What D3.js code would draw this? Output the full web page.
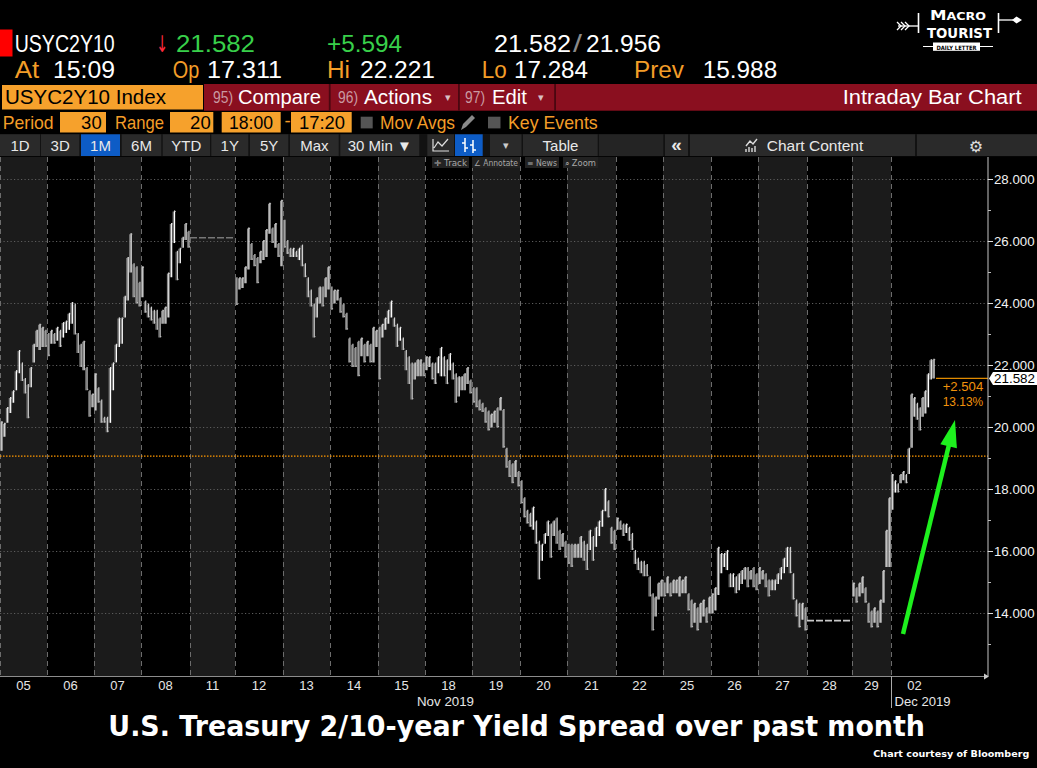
<!DOCTYPE html>
<html><head><meta charset="utf-8">
<script src="https://cdn.jsdelivr.net/npm/d3@7"></script>
<style>html,body{margin:0;padding:0;background:#000;overflow:hidden}</style>
</head><body>
<svg id="c" width="1037" height="768"></svg>
<script>
// ---------------- DATA ----------------
const dayLabels = ["05","06","07","08","11","12","13","14","15","18","19","20","21","22","25","26","27","28","29","02"];
// 30-minute bars in each session (x slots)
const sessionBars = [47,47,47,49,45,48,47,48,47,47,48,47,49,47,48,47,49,45,39,47];
const lastDayTradedBars = 44;
const closedDays = ["11","28"];
const closedLevels = [26.12, 13.77];
// sampled bar ranges [low, high] per session
const d05 = [[19.25,20.2],[19.7,20.15],[20.15,20.66],[20.47,20.98],[20.8,21.2],[21.2,21.85],[21.75,22.5],[21.5,22.1],[21.1,21.6],[20.3,21.4],[21.3,21.95],[22.1,22.7],[22.6,23.15],[22.5,23.35],[22.6,23.25],[22.6,23.15]];
const d06 = [[22.3,23.05],[22.7,23.15],[22.7,23.05],[22.8,23.25],[22.6,23.15],[22.9,23.4],[23.05,23.45],[23.15,23.7],[23.35,24.05],[23.0,24.0],[22.4,23.05],[21.95,22.7],[21.85,22.8],[21.2,21.95],[20.35,21.2],[20.65,21.1]];
const d07 = [[20.55,21.75],[20.8,21.3],[20.15,20.9],[20.15,20.35],[19.85,20.35],[20.15,21.95],[21.2,22.1],[22.1,22.7],[22.6,23.55],[22.7,23.55],[23.55,24.25],[24.1,25.5],[25.0,26.27],[24.2,25.3],[24.0,25.2],[23.9,24.7]];
const d08 = [[24.2,25.2],[23.7,24.1],[23.55,24.0],[23.45,23.9],[23.35,23.8],[23.15,23.8],[22.9,23.55],[23.35,23.8],[23.35,23.9],[23.55,25.0],[24.85,26.6],[25.95,27.0],[24.75,25.7],[25.3,25.8],[25.8,26.15],[26.05,26.6],[25.8,26.35]];
const d11 = [];
const d12 = [[23.95,24.85],[24.45,24.85],[24.5,24.85],[24.65,25.2],[25.1,26.45],[25.4,25.95],[25.2,25.6],[24.65,25.5],[25.3,25.7],[25.4,26.05],[25.5,26.4],[26.25,27.25],[25.95,26.45],[25.8,26.6],[25.5,25.95],[25.2,27.35]];
const d13 = [[25.8,26.7],[25.6,26.05],[25.5,25.8],[25.5,25.8],[25.5,25.7],[25.4,25.8],[25.2,25.9],[24.85,25.3],[24.2,24.85],[23.9,24.45],[22.9,24.0],[23.55,24.2],[24.0,24.55],[23.9,24.55],[24.2,24.85],[24.45,25.2]];
const d14 = [[23.8,24.55],[24.0,24.45],[24.1,24.45],[23.7,24.2],[23.55,24.0],[23.15,23.7],[22.1,22.9],[21.95,22.7],[21.95,22.6],[21.65,22.8],[22.3,22.9],[22.1,22.7],[22.3,22.8],[22.1,22.7],[22.1,23.25],[22.6,23.15]];
const d15 = [[21.55,23.25],[22.9,23.35],[23.15,23.55],[23.35,23.8],[23.55,24.1],[23.25,23.55],[22.6,23.35],[22.8,23.25],[22.5,22.9],[21.85,22.5],[21.4,22.3],[20.9,22.1],[21.55,22.1],[21.65,22.2],[21.65,22.2],[21.65,22.1]];
const d18 = [[21.85,22.3],[21.95,22.3],[21.55,22.1],[21.4,22.1],[21.75,22.3],[21.65,22.6],[21.65,22.3],[21.4,22.2],[21.85,22.4],[21.55,22.1],[20.8,21.75],[21.0,21.65],[21.2,21.65],[21.2,21.75],[21.4,21.95],[21.1,21.55]];
const d19 = [[20.8,21.3],[20.65,21.3],[20.55,20.9],[20.5,20.8],[20.15,20.65],[19.9,20.55],[20.0,20.45],[20.15,20.55],[20.0,20.65],[20.55,20.98],[19.35,20.6],[18.7,19.35],[18.4,18.95],[18.2,18.85],[18.4,18.95],[18.1,18.6]];
const d20 = [[17.55,18.3],[17.1,17.75],[16.9,17.35],[16.8,17.25],[16.7,17.45],[16.25,17.0],[15.1,16.35],[15.7,16.25],[16.25,16.6],[16.5,17.0],[15.8,16.9],[16.5,17.0],[16.25,17.1],[16.05,16.7],[16.15,16.6],[15.8,16.35]];
const d21 = [[15.6,16.25],[15.5,16.25],[15.8,16.25],[15.8,16.25],[15.8,16.5],[15.7,16.35],[15.4,16.25],[16.05,16.7],[15.7,16.5],[16.15,16.8],[16.5,17.0],[16.8,17.35],[17.3,18.05],[17.1,17.65],[16.25,16.8],[16.05,16.7]];
const d22 = [[16.7,17.1],[16.7,17.0],[16.5,16.9],[16.6,16.9],[16.35,16.8],[16.05,16.6],[15.6,16.05],[15.4,15.8],[15.3,15.7],[15.2,15.7],[15.2,15.6],[14.55,15.2],[13.45,14.65],[13.9,14.55],[14.45,15.0],[14.55,15.1]];
const d25 = [[14.55,15.0],[14.65,15.2],[14.55,15.0],[14.65,15.1],[14.65,15.1],[14.55,15.2],[14.65,15.1],[14.65,15.2],[14.1,14.65],[13.55,14.45],[13.7,14.35],[13.45,14.2],[13.7,14.35],[13.9,14.45],[13.7,14.2],[14.0,14.55]];
const d26 = [[14.0,14.65],[14.1,14.85],[14.6,16.15],[15.3,15.95],[15.5,15.95],[15.4,16.05],[14.85,15.3],[14.85,15.3],[14.65,15.2],[14.75,15.3],[14.95,15.4],[15.1,15.5],[14.85,15.5],[15.1,15.4],[14.85,15.5],[14.75,15.3]];
const d27 = [[14.95,15.5],[15.1,15.4],[14.85,15.3],[14.55,15.1],[14.75,15.1],[14.75,15.1],[14.95,15.3],[15.1,15.5],[15.3,15.8],[15.5,16.15],[15.3,16.15],[14.45,15.3],[13.9,14.45],[13.55,14.35],[13.8,14.35],[13.45,14.2]];
const d28 = [];
const d29 = [[14.55,15.0],[14.35,14.85],[14.55,15.0],[14.65,15.2],[14.35,14.85],[13.7,14.35],[13.55,14.1],[13.7,14.2],[13.55,14.1],[13.7,14.45],[14.35,15.4],[15.5,16.7],[15.5,17.75]];
const d02 = [[17.35,18.5],[17.9,18.3],[17.9,18.2],[18.2,18.5],[18.3,18.6],[18.2,18.5],[18.5,19.35],[19.35,21.1],[20.35,20.98],[20.25,20.8],[19.9,20.65],[20.35,20.98],[20.45,21.2],[20.65,21.75],[21.55,22.2],[21.58,22.22]];
const sessions = [d05,d06,d07,d08,d11,d12,d13,d14,d15,d18,d19,d20,d21,d22,d25,d26,d27,d28,d29,d02];

const yTicks = [14,16,18,20,22,24,26,28];
const yMinor = [13,15,17,19,21,23,25,27];
const startLevel = 19.078;
const lastPrice = 21.582;
const changeText = ["+2.504","13.13%"];
const arrowStart = [903, 13.34];
const arrowEnd = [955, 20.24];

const header1 = {sym:"USYC2Y10", last:"21.582", chg:"+5.594", bid:"21.582", ask:"21.956"};
const header2 = [["At","15:09"],["Op","17.311"],["Hi","22.221"],["Lo","17.284"],["Prev","15.988"]];
const toolbarLabels = ["1D","3D","1M","6M","YTD","1Y","5Y","Max","30 Min \u25BC"];

// ---------------- DRAW ----------------
const svg = d3.select("#c");
const F = "'Liberation Sans', Arial, sans-serif";
const ORANGE = "#f6a12c", ORTXT = "#f39d28";

function T(x, y, s, o = {}) {
  const t = svg.append("text").attr("x", x).attr("y", y).text(s)
    .attr("font-family", o.ff || F).attr("font-size", o.fs || 14)
    .attr("fill", o.fill || "#fff");
  if (o.fw) t.attr("font-weight", o.fw);
  if (o.anchor) t.attr("text-anchor", o.anchor);
  if (o.len) t.attr("textLength", o.len).attr("lengthAdjust", "spacingAndGlyphs");
  return t;
}

svg.append("rect").attr("width",1037).attr("height",768).attr("fill","#000");

// scales
const plotTop = 157, plotBottom = 676, axisX = 988;
const x = d3.scaleLinear().domain([0, 988]).range([0, 988]);
const y = d3.scaleLinear().domain([12, 28]).range([675.5, 179.5]);

// session boundaries
const starts = [];
let acc = 0;
sessionBars.forEach(b => { starts.push(acc); acc += b; });

// shaded columns
sessionBars.forEach((b, i) => {
  if (i % 2 === 0 && i < sessionBars.length - 1)
    svg.append("rect").attr("x", x(starts[i])).attr("y", plotTop)
      .attr("width", x(starts[i] + b) - x(starts[i])).attr("height", plotBottom - plotTop)
      .attr("fill", "#1b1b1b");
});

// horizontal dotted gridlines
yTicks.forEach(v => {
  svg.append("line").attr("x1", 0).attr("x2", axisX).attr("y1", y(v)).attr("y2", y(v))
    .attr("stroke", "#5c5c5c").attr("stroke-width", 1).attr("stroke-dasharray", "1.2,2.3");
});

// vertical dashed separators
starts.forEach((s, i) => {
  svg.append("line").attr("x1", x(s) + 0.5).attr("x2", x(s) + 0.5).attr("y1", plotTop).attr("y2", plotBottom)
    .attr("stroke", "#6c6c6c").attr("stroke-width", 1).attr("stroke-dasharray", "5,4");
});

// orange start-level dotted line
svg.append("line").attr("x1", 0).attr("x2", axisX).attr("y1", y(startLevel)).attr("y2", y(startLevel))
  .attr("stroke", "#ff9800").attr("stroke-width", 1.4).attr("stroke-dasharray", "1.5,1.5");

// closed days flat lines
closedDays.forEach((d, k) => {
  const i = dayLabels.indexOf(d);
  svg.append("line").attr("x1", x(starts[i])).attr("x2", x(starts[i] + sessionBars[i]))
    .attr("y1", y(closedLevels[k])).attr("y2", y(closedLevels[k]))
    .attr("stroke", k === 0 ? "#777" : "#c8c8c8").attr("stroke-width", 1.6)
    .attr("stroke-dasharray", "7,2");
});

// bars
const gBars = svg.append("g");
let prevMid = null;
sessions.forEach((arr, i) => {
  const n = arr.length;
  if (!n) return;
  const w = (i === sessions.length - 1) ? lastDayTradedBars : sessionBars[i];
  const step = w / n;
  arr.forEach((r, j) => {
    const cx = x(starts[i] + (j + 0.5) * step);
    const mid = (r[0] + r[1]) / 2;
    const up = prevMid === null || mid >= prevMid;
    prevMid = mid;
    gBars.append("line").attr("x1", cx - 0.9).attr("x2", cx - 0.9).attr("y1", y(r[1]) + 1).attr("y2", y(r[0]))
      .attr("stroke", up ? "#8a8a8a" : "#6e6e6e").attr("stroke-width", 1.2);
    gBars.append("line").attr("x1", cx + 0.4).attr("x2", cx + 0.4).attr("y1", y(r[1])).attr("y2", y(r[0]))
      .attr("stroke", up ? "#ffffff" : "#cfcfcf").attr("stroke-width", 1.2);
    gBars.append("line").attr("x1", cx + 0.4).attr("x2", cx + 1.6).attr("y1", y(up ? r[1] : r[0]) + (up ? 1 : -1)).attr("y2", y(up ? r[1] : r[0]) + (up ? 1 : -1))
      .attr("stroke", "#bbb").attr("stroke-width", 1);
  });
});

// last price line
const lastX = x(starts[19] + lastDayTradedBars) + 1;
svg.append("line").attr("x1", lastX).attr("x2", axisX).attr("y1", y(lastPrice)).attr("y2", y(lastPrice))
  .attr("stroke", "#e08a00").attr("stroke-width", 1.3);
T(942.7, y(lastPrice) + 12.5, changeText[0], {fs: 12.5, fill: "#f0920c", len: 40.5});
T(942.7, y(lastPrice) + 27.5, changeText[1], {fs: 12.5, fill: "#f0920c", len: 40.5});

// right axis
svg.append("line").attr("x1", axisX).attr("x2", axisX).attr("y1", plotTop).attr("y2", plotBottom)
  .attr("stroke", "#c4c4c4").attr("stroke-width", 1);
yTicks.forEach(v => {
  svg.append("line").attr("x1", axisX).attr("x2", axisX + 5).attr("y1", y(v)).attr("y2", y(v)).attr("stroke", "#ddd");
  T(994, y(v) + 4.8, d3.format(".3f")(v), {fs: 13.5, fill: "#f2f2f2", len: 40.5});
});
yMinor.forEach(v => {
  svg.append("line").attr("x1", axisX).attr("x2", axisX + 3).attr("y1", y(v)).attr("y2", y(v)).attr("stroke", "#bbb");
});
// last price tag
const ly = y(lastPrice);
svg.append("path").attr("d", `M${axisX + 1},${ly} L${axisX + 5},${ly - 6.5} L1037,${ly - 6.5} L1037,${ly + 6.5} L${axisX + 5},${ly + 6.5} Z`)
  .attr("fill", "#fff");
T(994, ly + 5, d3.format(".3f")(lastPrice), {fs: 13.5, fill: "#000", len: 41});

// bottom axis
svg.append("line").attr("x1", 0).attr("x2", axisX).attr("y1", plotBottom + 0.5).attr("y2", plotBottom + 0.5)
  .attr("stroke", "#8c8c8c").attr("stroke-width", 1.2);
svg.append("path").attr("d", `M${axisX - 4},${plotBottom - 2.5} L${axisX + 1},${plotBottom + 0.5} L${axisX - 4},${plotBottom + 3.5} Z`).attr("fill", "#ccc");
dayLabels.forEach((d, i) => {
  T(x(starts[i] + sessionBars[i] / 2), 690, d, {fs: 13, fill: "#e6e6e6", anchor: "middle"});
});
T(x(starts[9] + sessionBars[9] / 2) - 3, 705.5, "Nov 2019", {fs: 13, fill: "#e6e6e6", anchor: "middle", len: 57});
svg.append("line").attr("x1", x(starts[19]) + 0.5).attr("x2", x(starts[19]) + 0.5).attr("y1", plotBottom).attr("y2", 708)
  .attr("stroke", "#aaa");
T(x(starts[19]) + 3.5, 705.5, "Dec 2019", {fs: 13, fill: "#e6e6e6", len: 56});

// green annotation arrow
(function () {
  const x0 = x(arrowStart[0]), y0 = y(arrowStart[1]), x1 = x(arrowEnd[0]), y1 = y(arrowEnd[1]);
  const L = Math.hypot(x1 - x0, y1 - y0), ux = (x1 - x0) / L, uy = (y1 - y0) / L;
  const hl = 27, hw = 8.5;
  const bx = x1 - ux * hl, by = y1 - uy * hl;
  svg.append("line").attr("x1", x0).attr("y1", y0).attr("x2", bx + ux * 2).attr("y2", by + uy * 2)
    .attr("stroke", "#1ef01e").attr("stroke-width", 4.5);
  svg.append("path").attr("d", `M${x1},${y1} L${bx - uy * hw},${by + ux * hw} L${bx + uy * hw},${by - ux * hw} Z`)
    .attr("fill", "#1ef01e");
})();

// ---------------- HEADER ----------------
svg.append("rect").attr("x", 0).attr("y", 29.5).attr("width", 12.5).attr("height", 27).attr("fill", "#ff0000");
T(14.7, 52, header1.sym, {fs: 23, len: 100});
T(156, 52, "\u2193", {fs: 23, fill: "#ff2a3c", ff: "'DejaVu Sans'", len: 12});
T(176, 52, header1.last, {fs: 23, fill: "#38d04a", len: 79});
T(327, 52, header1.chg, {fs: 23, fill: "#38d04a", len: 75});
T(494, 52, header1.bid, {fs: 23, len: 77});
T(573, 52, "/", {fs: 23, fill: "#8a8a8a", len: 9});
T(586, 52, header1.ask, {fs: 23, len: 75});

const h2x = [[14.7, 24.5, 53, 62], [172.7, 26.5, 207, 75], [327, 23, 360, 75], [481.7, 25, 514, 74], [634, 50, 702.7, 74.5]];
header2.forEach((p, i) => {
  T(h2x[i][0], 78, p[0], {fs: 23, fill: ORTXT, len: h2x[i][1]});
  T(h2x[i][2], 78, p[1], {fs: 23, len: h2x[i][3]});
});

// row 3
svg.append("rect").attr("x", 2).attr("y", 85).attr("width", 201).attr("height", 24.5).attr("fill", ORANGE);
T(5, 104, "USYC2Y10 Index", {fs: 20, fill: "#000", len: 161});
svg.append("rect").attr("x", 204).attr("y", 84).attr("width", 833).attr("height", 26.7).attr("fill", "#8a0f1f");
[328.8, 458, 554.2].forEach(sx => svg.append("rect").attr("x", sx).attr("y", 84).attr("width", 1.8).attr("height", 26.7).attr("fill", "#4a0710"));
const redBtns = [["95)", 213, "Compare", 238, 83, null], ["96)", 338, "Actions", 364, 68, 445], ["97)", 465, "Edit", 492, 35, 538]];
redBtns.forEach(b => {
  T(b[1], 103, b[0], {fs: 17, fill: "#c99aa2", len: 20});
  T(b[3], 104, b[2], {fs: 20, len: b[4]});
  if (b[5]) T(b[5], 101, "\u25BE", {fs: 11, fill: "#d8c0c4", ff: "'DejaVu Sans'"});
});
T(842.7, 104, "Intraday Bar Chart", {fs: 20, len: 179});

// row 4
T(2.7, 128.5, "Period", {fs: 18.5, fill: ORTXT, len: 51});
svg.append("rect").attr("x", 60).attr("y", 112).attr("width", 46).attr("height", 20.5).attr("fill", ORANGE);
T(101.7, 128.5, "30", {fs: 18.5, fill: "#000", anchor: "end"});
T(115, 128.5, "Range", {fs: 18.5, fill: ORTXT, len: 49});
svg.append("rect").attr("x", 170).attr("y", 112).attr("width", 43.3).attr("height", 20.5).attr("fill", ORANGE);
T(210.7, 128.5, "20", {fs: 18.5, fill: "#000", anchor: "end"});
svg.append("rect").attr("x", 221.7).attr("y", 112).attr("width", 59).attr("height", 20.5).attr("fill", ORANGE);
T(229, 128.5, "18:00", {fs: 18.5, fill: "#000", len: 44});
T(284.5, 127, "-", {fs: 18.5, fill: ORTXT});
svg.append("rect").attr("x", 291).attr("y", 112).attr("width", 60.7).attr("height", 20.5).attr("fill", ORANGE);
T(299, 128.5, "17:20", {fs: 18.5, fill: "#000", len: 46});
svg.append("rect").attr("x", 360.7).attr("y", 116.7).attr("width", 12).attr("height", 11.7).attr("fill", "#555");
T(380, 128.5, "Mov Avgs", {fs: 18.5, fill: ORTXT, len: 75});
svg.append("path").attr("d", "M461,130 L463,124 L472,115 L475,118 L466,127 Z").attr("fill", "#8a8a8a");
svg.append("rect").attr("x", 488).attr("y", 116.7).attr("width", 12.5).attr("height", 11.7).attr("fill", "#555");
T(508, 128.5, "Key Events", {fs: 18.5, fill: ORTXT, len: 89.7});

// row 5 toolbar
svg.append("rect").attr("x", 0).attr("y", 134).attr("width", 1037).attr("height", 22.3).attr("fill", "#121212");
const btns = [[0, 40], [41, 79.3], [81, 120], [121.7, 161.3], [162.7, 210], [211.3, 248.3], [250, 288.3], [290, 338.7], [340.3, 419.3]];
btns.forEach((b, i) => {
  svg.append("rect").attr("x", b[0]).attr("y", 134.3).attr("width", b[1] - b[0]).attr("height", 21.7)
    .attr("fill", i === 2 ? "#0d5cc6" : "#2a2a2a");
  const lab = toolbarLabels[i];
  T((b[0] + b[1]) / 2, 151, lab, {fs: 15, fill: "#e8e8e8", anchor: "middle", ff: i === 8 ? "'Liberation Sans', 'DejaVu Sans'" : F});
});
svg.append("rect").attr("x", 427.3).attr("y", 134.3).attr("width", 26.7).attr("height", 21.7).attr("fill", "#2a2a2a");
svg.append("rect").attr("x", 455).attr("y", 134.3).attr("width", 27.7).attr("height", 21.7).attr("fill", "#0d5cc6");
svg.append("path").attr("d", "M433,139 L433,151 L449,151 M434,148 L438,142 L442,146 L448,139").attr("fill", "none").attr("stroke", "#ddd").attr("stroke-width", 1.2);
svg.append("path").attr("d", "M465,138 L465,152 M462,143 L465,143 M465,148 L468,148 M473,140 L473,153 M470,145 L473,145 M473,150 L476,150").attr("fill", "none").attr("stroke", "#fff").attr("stroke-width", 1.5);
svg.append("rect").attr("x", 490).attr("y", 134.3).attr("width", 31.5).attr("height", 21.7).attr("fill", "#2a2a2a");
T(505.7, 149, "\u25BE", {fs: 11, fill: "#ccc", anchor: "middle", ff: "'DejaVu Sans'"});
svg.append("rect").attr("x", 523).attr("y", 134.3).attr("width", 74.7).attr("height", 21.7).attr("fill", "#2a2a2a");
T(560.5, 151, "Table", {fs: 15, fill: "#e8e8e8", anchor: "middle"});
svg.append("rect").attr("x", 599).attr("y", 134.3).attr("width", 64.3).attr("height", 21.7).attr("fill", "#242424");
svg.append("rect").attr("x", 665).attr("y", 134.3).attr("width", 23).attr("height", 21.7).attr("fill", "#2a2a2a");
T(676.5, 151, "\u00AB", {fs: 19, fill: "#e8e8e8", anchor: "middle", fw: "bold"});
svg.append("rect").attr("x", 690).attr("y", 134.3).attr("width", 225).attr("height", 21.7).attr("fill", "#2a2a2a");
svg.append("path").attr("d", "M746,146 L750,141 L753,144 L757,139 M746,152 L746,149 M749,152 L749,147 M752,152 L752,148 M755,152 L755,146").attr("fill", "none").attr("stroke", "#ddd").attr("stroke-width", 1.4);
T(766.7, 151, "Chart Content", {fs: 15, fill: "#e8e8e8", len: 96.6});
svg.append("rect").attr("x", 917).attr("y", 134.3).attr("width", 120).attr("height", 21.7).attr("fill", "#2a2a2a");
T(976, 151.5, "\u2699", {fs: 16, fill: "#ddd", anchor: "middle", ff: "'DejaVu Sans'"});

// sub toolbar small labels
const subs = [["\u271B Track", 434, 33], ["\u2220 Annotate", 474, 44], ["\u2261 News", 527, 30], ["\u2315 Zoom", 565, 31]];
subs.forEach(s => {
  svg.append("rect").attr("x", s[1] - 2).attr("y", 157).attr("width", s[2] + 4).attr("height", 11).attr("fill", "#222");
  T(s[1], 165.5, s[0], {fs: 8, fill: "#a8a8a8", ff: "'DejaVu Sans'", len: s[2]});
});

// logo
svg.append("path").attr("d", "M897,22 L901,26 L897,30 M901,22 L905,26 L901,30 M905,22 L909,26 L905,30").attr("fill", "none").attr("stroke", "#fff").attr("stroke-width", 1.3);
svg.append("line").attr("x1", 898).attr("x2", 918).attr("y1", 26).attr("y2", 26).attr("stroke", "#fff").attr("stroke-width", 1.3);
svg.append("line").attr("x1", 918.5).attr("x2", 918.5).attr("y1", 13).attr("y2", 33).attr("stroke", "#fff").attr("stroke-width", 1.6);
svg.append("line").attr("x1", 998.5).attr("x2", 998.5).attr("y1", 13).attr("y2", 33).attr("stroke", "#fff").attr("stroke-width", 1.6);
svg.append("line").attr("x1", 998).attr("x2", 1013).attr("y1", 20).attr("y2", 20).attr("stroke", "#fff").attr("stroke-width", 1.3);
svg.append("path").attr("d", "M1012,20 L1016.5,16.5 L1022,20 L1016.5,23.5 Z").attr("fill", "#fff");
const macro = svg.append("text").attr("x", 930).attr("y", 20).attr("fill", "#fff")
  .attr("font-family", "'DejaVu Sans'").attr("font-weight", "bold")
  .attr("textLength", 56).attr("lengthAdjust", "spacingAndGlyphs");
macro.append("tspan").attr("font-size", 14.5).text("M");
macro.append("tspan").attr("font-size", 11).text("ACRO");
T(927, 37.5, "TOURIST", {fs: 14.5, fw: "bold", ff: "'DejaVu Sans'", len: 65});
svg.append("line").attr("x1", 923).attr("x2", 993).attr("y1", 46.5).attr("y2", 46.5).attr("stroke", "#fff").attr("stroke-width", 1.2);
svg.append("rect").attr("x", 933).attr("y", 42.5).attr("width", 47).attr("height", 8.3).attr("fill", "#fff");
T(956.5, 49.6, "DAILY LETTER", {fs: 6, fill: "#000", fw: "bold", anchor: "middle", ff: "'DejaVu Sans'", len: 40});

// title & credit
T(108.3, 736, "U.S. Treasury 2/10-year Yield Spread over past month", {fs: 28, fw: "bold", ff: "'DejaVu Sans', Verdana, sans-serif", len: 816.7});
T(873.3, 756.5, "Chart courtesy of Bloomberg", {fs: 9.5, fw: "bold", ff: "'DejaVu Sans', Verdana, sans-serif", len: 156});
</script>
</body></html>
